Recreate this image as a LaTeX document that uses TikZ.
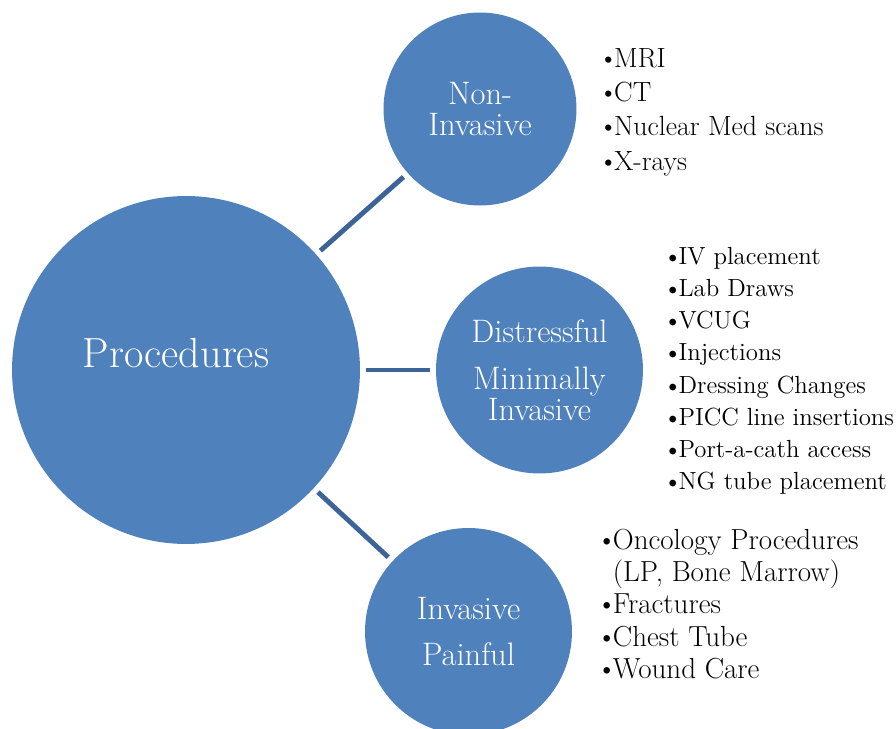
\documentclass[tikz,border=0pt]{standalone}
\usepackage{fontspec}
\usepackage{tikz}
\definecolor{circblue}{RGB}{79,129,189}
\definecolor{linkblue}{RGB}{60,100,152}
\newcommand\bul{\textbullet\kern-0.15em}

\begin{document}
\begin{tikzpicture}
      [x=0.02cm,y=-0.02cm,line join=round,
     %filled circles with white text
     bubble/.style={circle,fill=circblue,draw=none,inner sep=0pt,text=white,align=center},
     %the short links between the circles
     link/.style={color=linkblue,line width=2.8pt,shorten <=0.11cm,shorten >=0.11cm},
     %the bullet lists beside the circles
     itemlist/.style={anchor=north west,align=left,inner sep=0pt,text=black}]

\useasboundingbox (0,0) rectangle (896,729);

%main layer
%the circles
  \node[bubble,minimum size=6.96cm] (proc) at (186,370) {};
  \node[text=white,inner sep=0pt,font=\fontsize{24}{28}\selectfont] (proctext) at (176,353) {Procedures};
  \node[bubble,minimum size=3.86cm,font=\fontsize{18.5}{18}\selectfont] (noninv) at (480,109) {Non-\\Invasive};
  \node[bubble,minimum size=4.14cm,font=\fontsize{18.5}{17.6}\selectfont] (minimal) at (539.5,370) {Distressful\\[9.5pt]Minimally\\Invasive};
  \node[bubble,minimum size=4.14cm,font=\fontsize{18.5}{26}\selectfont] (painful) at (468.5,631.5) {Invasive\\Painful};

%the links
  \draw[link] (proc) -- (noninv);
  \draw[link] (proc) -- (minimal);
  \draw[link] (proc) -- (painful);

%the lists
  \node[itemlist,font=\fontsize{15.8}{19.4}\selectfont] (noninvlist) at (598,48.5)
   {\bul MRI\\\bul CT\\\bul Nuclear Med scans\\\bul X-rays};
  \node[itemlist,font=\fontsize{14.1}{18.3}\selectfont] (minimallist) at (663,247)
   {\bul IV placement\\\bul Lab Draws\\\bul VCUG\\\bul Injections\\\bul Dressing Changes\\\bul PICC line insertions\\\bul Port-a-cath access\\\bul NG tube placement};
  \node[itemlist,font=\fontsize{16.5}{18.4}\selectfont] (painfullist) at (596,528.5)
   {\bul Oncology Procedures\\\hphantom{\bul}(LP, Bone Marrow)\\\bul Fractures\\\bul Chest Tube\\\bul Wound Care};
\end{tikzpicture}
\end{document}
